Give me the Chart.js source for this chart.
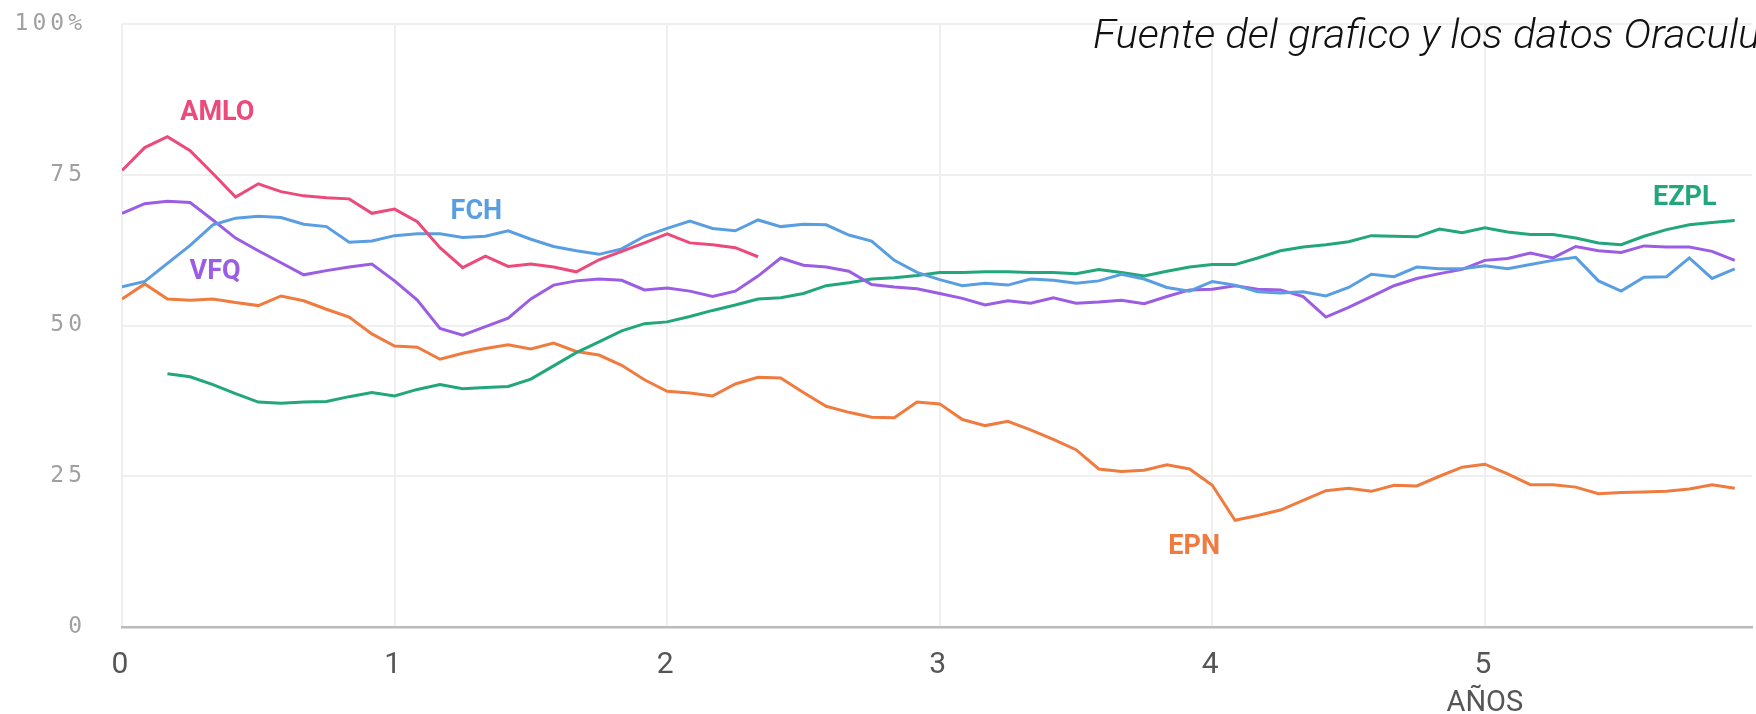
<!DOCTYPE html>
<html>
<head>
<meta charset="utf-8">
<script src="https://cdn.jsdelivr.net/npm/chart.js@4.4.0/dist/chart.umd.min.js"></script>
<style>
  html, body { margin: 0; padding: 0; background: #fff; }
  canvas { display: block; }
</style>
</head>
<body>
<canvas id="encuestasChart" width="1756" height="714"></canvas>
<script>
  // meses desde el inicio del sexenio
  const months = [0, 1, 2, 3, 4, 5, 6, 7, 8, 9, 10, 11, 12, 13, 14, 15, 16, 17,
    18, 19, 20, 21, 22, 23, 24, 25, 26, 27, 28, 29, 30, 31, 32, 33, 34, 35, 36,
    37, 38, 39, 40, 41, 42, 43, 44, 45, 46, 47, 48, 49, 50, 51, 52, 53, 54, 55,
    56, 57, 58, 59, 60, 61, 62, 63, 64, 65, 66, 67, 68, 69, 70, 71];

  const yearTicks = [0, 1, 2, 3, 4, 5];
  const yTicks = [0, 25, 50, 75, 100];
  const axisTitle = "AÑOS";

  // aprobacion (%) por mes
  const amlo = [75.7, 79.5, 81.3, 79.0, 75.2, 71.3, 73.5, 72.2, 71.5, 71.2, 71.0, 68.6,
    69.3, 67.2, 62.9, 59.6, 61.5, 59.8, 60.2, 59.7, 58.9, 60.9, 62.3, 63.7,
    65.2, 63.7, 63.4, 62.9, 61.4];

  const fch = [56.4, 57.3, 60.3, 63.3, 66.7, 67.8, 68.1, 67.9, 66.8, 66.4, 63.8, 64.0,
    64.9, 65.2, 65.2, 64.6, 64.8, 65.7, 64.3, 63.1, 62.4, 61.8, 62.7, 64.8,
    66.1, 67.3, 66.1, 65.7, 67.5, 66.4, 66.8, 66.7, 65.0, 64.0, 60.8, 58.8,
    57.6, 56.6, 57.0, 56.7, 57.7, 57.5, 57.0, 57.4, 58.5, 57.7, 56.3, 55.7,
    57.3, 56.7, 55.6, 55.4, 55.6, 54.9, 56.3, 58.5, 58.1, 59.7, 59.4, 59.4,
    59.9, 59.4, 60.1, 60.8, 61.3, 57.4, 55.7, 58.0, 58.1, 61.2, 57.8, 59.4];

  const vfq = [68.6, 70.2, 70.6, 70.4, 67.5, 64.5, 62.4, 60.4, 58.4, 59.1, 59.7, 60.2,
    57.4, 54.2, 49.5, 48.4, 49.8, 51.2, 54.4, 56.7, 57.4, 57.7, 57.5, 55.9,
    56.2, 55.7, 54.8, 55.7, 58.2, 61.2, 60.0, 59.7, 59.0, 56.8, 56.4, 56.1,
    55.3, 54.5, 53.4, 54.1, 53.7, 54.6, 53.7, 53.9, 54.2, 53.6, 54.8, 55.9,
    56.0, 56.6, 56.0, 55.9, 54.8, 51.4, 53.0, 54.8, 56.6, 57.8, 58.6, 59.3,
    60.8, 61.1, 62.0, 61.2, 63.1, 62.4, 62.1, 63.2, 63.0, 63.0, 62.3, 60.8];

  const ezpl = [null, null, 42.0, 41.5, 40.2, 38.7, 37.3, 37.1, 37.3, 37.4, 38.2, 38.9,
    38.3, 39.4, 40.2, 39.5, 39.7, 39.9, 41.1, 43.3, 45.5, 47.3, 49.1, 50.3,
    50.6, 51.5, 52.5, 53.4, 54.4, 54.6, 55.3, 56.6, 57.1, 57.7, 57.9, 58.3,
    58.8, 58.8, 58.9, 58.9, 58.8, 58.8, 58.6, 59.3, 58.8, 58.2, 59.0, 59.7,
    60.1, 60.1, 61.2, 62.4, 63.0, 63.4, 63.9, 64.9, 64.8, 64.7, 66.0, 65.4,
    66.2, 65.5, 65.1, 65.1, 64.5, 63.7, 63.4, 64.8, 65.9, 66.7, 67.1, 67.4];

  const epn = [54.4, 56.9, 54.4, 54.2, 54.4, 53.8, 53.3, 54.9, 54.1, 52.7, 51.4, 48.6,
    46.6, 46.4, 44.4, 45.4, 46.2, 46.8, 46.1, 47.1, 45.7, 45.1, 43.4, 41.0,
    39.1, 38.8, 38.3, 40.3, 41.4, 41.3, 38.9, 36.6, 35.6, 34.8, 34.7, 37.3,
    37.0, 34.4, 33.4, 34.1, 32.7, 31.1, 29.4, 26.2, 25.8, 26.0, 26.9, 26.2,
    23.5, 17.7, 18.5, 19.4, 21.0, 22.6, 23.0, 22.5, 23.5, 23.4, 25.0, 26.5,
    27.0, 25.4, 23.6, 23.6, 23.2, 22.1, 22.3, 22.4, 22.5, 22.9, 23.6, 23.0];

  const names = ["AMLO", "FCH", "VFQ", "EZPL", "EPN"];
  const colors = ["#ec4a7b", "#5a9ee2", "#9b5de3", "#22a67c", "#f07b3f"];
  const sourceText = "Fuente del grafico y los datos Oraculus";

  function toPoints(values) {
    return months.map((m, i) => ({ x: m, y: values[i] === undefined ? null : values[i] }));
  }

  // donde va el nombre de cada presidente (en meses, %)
  const nameSpots = [
    { x: 4.2, y: 85.2 },
    { x: 15.6, y: 68.8 },
    { x: 4.1, y: 58.8 },
    { x: 68.8, y: 71.1 },
    { x: 47.2, y: 13.3 },
  ];

  // los numeros del eje y van espaciados
  const tickSpacing = {
    id: "tickSpacing",
    beforeDraw(chart) {
      chart.ctx.letterSpacing = "4px";
    },
    beforeDatasetsDraw(chart) {
      chart.ctx.letterSpacing = "0px";
    },
  };

  const seriesNames = {
    id: "seriesNames",
    afterDatasetsDraw(chart) {
      const ctx = chart.ctx;
      const xs = chart.scales.x;
      const ys = chart.scales.y;
      ctx.save();
      ctx.letterSpacing = "0px";
      ctx.font = "bold 27px Roboto";
      ctx.textAlign = "center";
      ctx.textBaseline = "middle";
      nameSpots.forEach((p, i) => {
        ctx.fillStyle = colors[i];
        ctx.fillText(names[i], xs.getPixelForValue(p.x), ys.getPixelForValue(p.y));
      });
      // titulo del eje, debajo del 5
      ctx.font = "29px Roboto";
      ctx.fillStyle = "#555";
      ctx.fillText(axisTitle, xs.getPixelForValue(60), 704);
      ctx.restore();
    },
  };

  const sourceTitle = {
    id: "sourceTitle",
    afterDraw(chart) {
      const ctx = chart.ctx;
      ctx.save();
      ctx.letterSpacing = "0px";
      ctx.font = "italic 300 41px Roboto";
      const w = ctx.measureText("Fuente del grafico y los datos Oracul").width;
      ctx.translate(1093, 48);
      ctx.scale(645 / w, 1); // la fuente original es mas angosta
      ctx.fillStyle = "#111";
      ctx.textAlign = "left";
      ctx.textBaseline = "alphabetic";
      ctx.fillText(sourceText, 0, 0);
      ctx.restore();
    },
  };

  const ctx = document.getElementById("encuestasChart").getContext("2d");

  new Chart(ctx, {
    type: "line",
    data: {
      datasets: names.map((name, i) => ({
        label: name,
        data: toPoints([amlo, fch, vfq, ezpl, epn][i]),
        borderColor: colors[i],
        backgroundColor: colors[i],
        borderWidth: 3,
        pointRadius: 0,
        tension: 0,
        spanGaps: false,
      })),
    },
    options: {
      responsive: false,
      devicePixelRatio: 1,
      animation: false,
      layout: { padding: { top: 0, right: 4, left: 0, bottom: 0 } },
      plugins: {
        legend: { display: false },
        tooltip: { enabled: false },
      },
      scales: {
        x: {
          type: "linear",
          min: 0,
          max: 71.76,
          afterFit(scale) {
            scale.height = 87;
          },
          afterBuildTicks(scale) {
            scale.ticks = yearTicks.map((v) => ({ value: v * 12 }));
          },
          grid: { color: "#efefef", lineWidth: 2, drawTicks: false },
          border: { display: true, color: "#bbbbbb", width: 2.6 },
          ticks: {
            autoSkip: false,
            maxRotation: 0,
            padding: 20,
            color: "#555",
            font: { family: "Roboto", size: 30 },
            callback: (v) => String(v / 12),
          },
        },
        y: {
          min: 0,
          max: 100,
          afterFit(scale) {
            scale.width = 122;
            // el area del grafico empieza en y=24
            scale.paddingTop = 24;
            scale.paddingBottom = 0;
          },
          afterBuildTicks(scale) {
            scale.ticks = yTicks.map((v) => ({ value: v }));
          },
          grid: { color: "#efefef", lineWidth: 2, drawTicks: false },
          border: { display: false },
          ticks: {
            padding: 36,
            color: "#a0a0a0",
            font: { family: "DejaVu Sans Mono", size: 23 },
            callback: (v) => (v === 100 ? "100%" : String(v)),
          },
        },
      },
    },
    plugins: [tickSpacing, seriesNames, sourceTitle],
  });
</script>
</body>
</html>
